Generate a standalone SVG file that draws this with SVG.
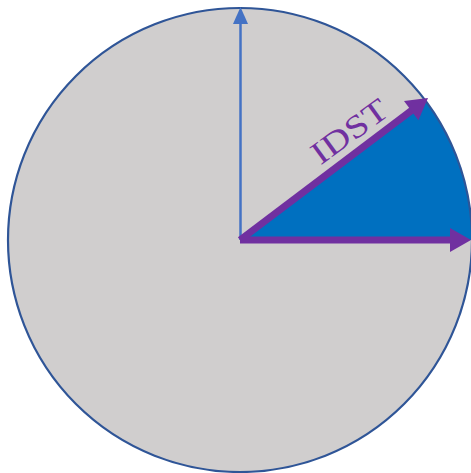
<svg xmlns="http://www.w3.org/2000/svg" width="471" height="473" viewBox="0 0 471 473">
  <style>
    .disc { fill: #D0CECE; stroke: none; }
    .rim { fill: none; stroke: #2F5597; stroke-width: 2.2; }
    .wedge { fill: #0070C0; stroke: none; }
    .axis { stroke: #4472C4; stroke-width: 2.5; fill: none; }
    .axis-head { fill: #4472C4; }
    .vec { stroke: #7030A0; stroke-width: 7; fill: none; stroke-linecap: butt; }
    .vec-head { fill: #7030A0; }
    .label { font-family: "Liberation Serif", "DejaVu Serif", serif; font-size: 32px; fill: #7030A0; }
  </style>
  <g id="circle">
    <circle class="disc" cx="240" cy="240" r="232"/>
  </g>
  <g id="sector">
    <path class="wedge" d="M240,240 L472,240 A232,232 0 0 0 425.3,100.4 Z"/>
  </g>
  <g id="rim">
    <circle class="rim" cx="240" cy="240" r="232"/>
  </g>
  <g id="connectors">
    <line class="axis" x1="240.5" y1="240" x2="240.5" y2="22"/>
    <polygon class="axis-head" points="240.5,7 233,24 248,24"/>
    <line class="vec" x1="240" y1="240" x2="453" y2="240"/>
    <polygon class="vec-head" points="471,240 450,228 450,252"/>
    <line class="vec" x1="240" y1="240" x2="413" y2="109.4"/>
    <polygon class="vec-head" points="428,98 418.4,120.2 404,101"/>
  </g>
  <g id="label-idst" transform="translate(240,240) rotate(-36)">
    <text class="label" x="109" y="-13" textLength="87" lengthAdjust="spacingAndGlyphs">IDST</text>
  </g>
</svg>
